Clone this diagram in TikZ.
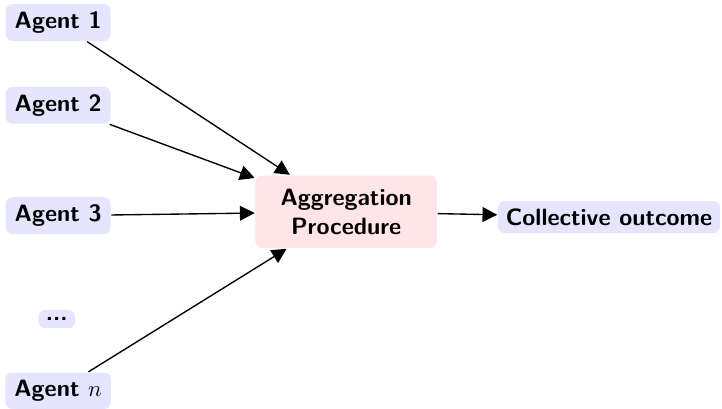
\documentclass[tikz,border=0pt]{standalone}
\usetikzlibrary{arrows.meta}
\begin{document}
\begin{tikzpicture}[
	font=\fontsize{10.4}{12.5}\selectfont\sffamily\bfseries,
	agent/.style={fill=blue!10, rounded corners=3pt, inner xsep=4pt},
	proc/.style={fill=red!10, rounded corners=3pt, align=center, minimum width=80pt, minimum height=32pt},
	>={Triangle[length=6.5pt,width=6.5pt]}, line width=0.6pt]
	\useasboundingbox (0,0) rectangle (11.18,-6.33);
	\node (agg) at (5.36,-3.28) [proc] {Aggregation\\Procedure};
	\node (out) at (9.43,-3.36) [agent, inner xsep=3.5pt] {Collective outcome};
	\draw [->] (agg) -- (out);
	\node (a1) at (0.9,-0.35) [agent] {Agent 1} edge [->] (agg);
	\node (a2) at (0.9,-1.63) [agent] {Agent 2} edge [->] (agg);
	\node (a3) at (0.9,-3.34) [agent] {Agent 3} edge [->] (agg);
	\node (dots) at (0.88,-4.94) [agent, inner xsep=3.33pt] {...};
	\node (an) at (0.9,-6.05) [agent] {Agent $n$} edge [->] (agg);
\end{tikzpicture}
\end{document}
